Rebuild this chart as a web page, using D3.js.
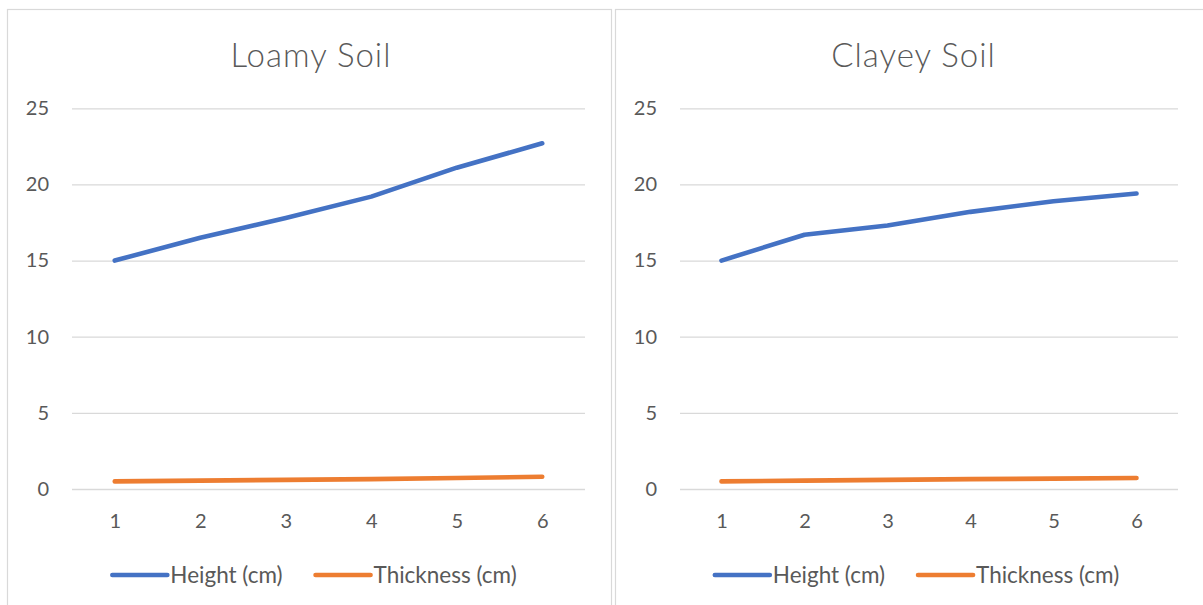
<!DOCTYPE html>
<html>
<head>
<meta charset="utf-8">
<script src="https://cdn.jsdelivr.net/npm/d3@7"></script>
<style>
  html, body { margin: 0; padding: 0; background: #ffffff; }
  svg { display: block; }
  text { font-family: Lato, "Open Sans", sans-serif; fill: #595959; }
</style>
</head>
<body>
<svg id="chart" width="1203" height="605"></svg>
<script>
// Week number on the category axis
const categories = [1, 2, 3, 4, 5, 6];

// Loamy soil measurements
const loamyHeight = [15, 16.5, 17.8, 19.2, 21.1, 22.7];
const loamyThickness = [0.5, 0.55, 0.6, 0.65, 0.72, 0.8];

// Clayey soil measurements
const clayeyHeight = [15, 16.7, 17.3, 18.2, 18.9, 19.4];
const clayeyThickness = [0.5, 0.55, 0.6, 0.65, 0.68, 0.72];

const yTicks = [0, 5, 10, 15, 20, 25];
const seriesNames = ["Height (cm)", "Thickness (cm)"];
const seriesColors = ["#4472C4", "#ED7D31"];

const panels = [
  { title: "Loamy Soil", box: [7.5, 611.5], plot: [72, 585], series: [loamyHeight, loamyThickness] },
  { title: "Clayey Soil", box: [615.5, 1208.5], plot: [680, 1178], series: [clayeyHeight, clayeyThickness] }
];

const svg = d3.select("#chart");
svg.append("rect").attr("width", 1203).attr("height", 605).attr("fill", "#ffffff");

const y = d3.scaleLinear().domain([0, 25]).range([489, 108.3]);

panels.forEach(p => {
  const g = svg.append("g");

  // chart frame
  g.append("rect")
    .attr("x", p.box[0]).attr("y", 9.5)
    .attr("width", p.box[1] - p.box[0]).attr("height", 620)
    .attr("fill", "#ffffff").attr("stroke", "#d9d9d9").attr("stroke-width", 1.2);

  const cx = (p.box[0] + p.box[1]) / 2;

  // title
  g.append("text")
    .attr("x", cx + 1.5).attr("y", 67)
    .attr("text-anchor", "middle")
    .style("font-size", "33px")
    .style("font-weight", 300)
    .style("letter-spacing", "1px")
    .text(p.title);

  const x = d3.scalePoint().domain(categories).range(p.plot).padding(0.5);
  const w = p.plot[1] - p.plot[0];

  // value axis with horizontal gridlines
  const yAxis = g.append("g")
    .attr("transform", `translate(${p.plot[0]},0)`)
    .call(d3.axisLeft(y).tickValues(yTicks).tickSize(-w).tickPadding(23));
  yAxis.select(".domain").remove();
  yAxis.selectAll(".tick line").attr("stroke", "#d9d9d9").attr("stroke-width", 1.3);
  yAxis.selectAll(".tick text").style("font-size", "20px").attr("fill", "#595959");

  // category axis labels
  const xAxis = g.append("g")
    .attr("transform", `translate(0,${y(0)})`)
    .call(d3.axisBottom(x).tickSize(0).tickPadding(25));
  xAxis.select(".domain").remove();
  xAxis.selectAll(".tick text").style("font-size", "20px").attr("fill", "#595959");

  // series lines
  const line = d3.line().x((d, i) => x(categories[i])).y(d => y(d));
  p.series.forEach((vals, si) => {
    g.append("path")
      .datum(vals)
      .attr("d", line)
      .attr("fill", "none")
      .attr("stroke", seriesColors[si])
      .attr("stroke-width", 4.6)
      .attr("stroke-linecap", "round")
      .attr("stroke-linejoin", "round");
  });

  // legend
  const legend = g.append("g");
  const swatch = 55, gapText = 3, gapItem = 33, ly = 575;
  let lx = 0;
  seriesNames.forEach((name, si) => {
    legend.append("line")
      .attr("x1", lx).attr("x2", lx + swatch)
      .attr("y1", ly).attr("y2", ly)
      .attr("stroke", seriesColors[si]).attr("stroke-width", 4.6)
      .attr("stroke-linecap", "round");
    const t = legend.append("text")
      .attr("x", lx + swatch + gapText).attr("y", ly)
      .attr("dy", "0.35em")
      .style("font-size", "22.5px")
      .text(name);
    lx += swatch + gapText + t.node().getComputedTextLength() + gapItem;
  });
  const legendWidth = lx - gapItem;
  legend.attr("transform", `translate(${cx + 5 - legendWidth / 2},0)`);
});
</script>
</body>
</html>
